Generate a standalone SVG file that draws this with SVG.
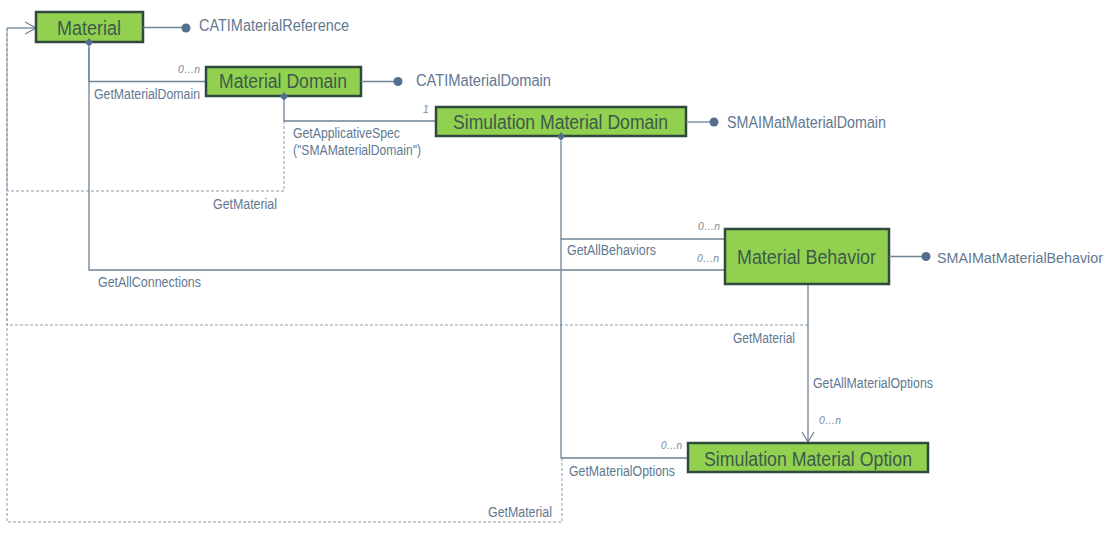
<svg xmlns="http://www.w3.org/2000/svg" width="1117" height="533" viewBox="0 0 1117 533">
<style>
.box{fill:#92D050;stroke:#2F4A3C;stroke-width:2.5}
.bt{font-family:"Liberation Sans",Arial,sans-serif;font-size:20px;fill:#3B5B4A}
.lb{font-family:"Liberation Sans",Arial,sans-serif;font-size:14px;fill:#627890}
.ifc{font-size:16px}
.ifs{font-size:15px}
.mu{font-family:"Liberation Sans",Arial,sans-serif;font-size:10px;font-style:italic;fill:#7A8A9A}
.ln{fill:none;stroke:#6F8397;stroke-width:1.3}
.dl{fill:none;stroke:#8A9CAE;stroke-width:1;stroke-dasharray:3 2}
.dot{fill:#52708E}
</style>
<rect width="1117" height="533" fill="#ffffff"/>
<g id="connectors">
  <path class="dl" d="M284,121 V191 H7 V28"/>
  <path class="dl" d="M808,325 H7 V28"/>
  <path class="dl" d="M562,458 V522 H7 V28"/>
  <path class="ln" d="M7,28 H36"/>
  <polyline class="ln" points="25,22 36,28 25,34"/>
  <path class="ln" d="M89,47 V81.5 H206"/>
  <path class="ln" d="M89,47 V270 H725"/>
  <path class="ln" d="M284,101 V121 H436"/>
  <path class="ln" d="M561,141 V239 H725"/>
  <path class="ln" d="M561,239 V458 H688"/>
  <path class="ln" d="M808,284 V442"/>
  <polyline class="ln" points="802,432 808,442 814,432"/>
  <text class="lb" x="94" y="99" textLength="106" lengthAdjust="spacingAndGlyphs">GetMaterialDomain</text>
  <text class="mu" x="178" y="73" textLength="22" lengthAdjust="spacingAndGlyphs">0…n</text>
  <text class="lb" x="98" y="287" textLength="103" lengthAdjust="spacingAndGlyphs">GetAllConnections</text>
  <text class="mu" x="697" y="262" textLength="22" lengthAdjust="spacingAndGlyphs">0…n</text>
  <text class="lb" x="293" y="138" textLength="107" lengthAdjust="spacingAndGlyphs">GetApplicativeSpec</text>
  <text class="lb" x="293" y="155" textLength="128" lengthAdjust="spacingAndGlyphs">("SMAMaterialDomain")</text>
  <text class="mu" x="423" y="113">1</text>
  <text class="lb" x="213" y="209" textLength="64" lengthAdjust="spacingAndGlyphs">GetMaterial</text>
  <text class="lb" x="567" y="255" textLength="89" lengthAdjust="spacingAndGlyphs">GetAllBehaviors</text>
  <text class="mu" x="698" y="230" textLength="22" lengthAdjust="spacingAndGlyphs">0…n</text>
  <text class="lb" x="733" y="343" textLength="62" lengthAdjust="spacingAndGlyphs">GetMaterial</text>
  <text class="lb" x="813" y="388" textLength="120" lengthAdjust="spacingAndGlyphs">GetAllMaterialOptions</text>
  <text class="mu" x="819" y="424" textLength="22" lengthAdjust="spacingAndGlyphs">0…n</text>
  <text class="lb" x="569" y="476" textLength="106" lengthAdjust="spacingAndGlyphs">GetMaterialOptions</text>
  <text class="mu" x="661" y="449" textLength="21" lengthAdjust="spacingAndGlyphs">0…n</text>
  <text class="lb" x="488" y="517" textLength="64" lengthAdjust="spacingAndGlyphs">GetMaterial</text>
</g>
<g id="material">
  <rect class="box" x="36" y="12" width="107" height="30"/>
  <text class="bt" x="57" y="35" textLength="64" lengthAdjust="spacingAndGlyphs">Material</text>
  <polygon class="dot" points="89,38 93,42.5 89,47 85,42.5"/>
  <path class="ln" d="M143,27.5 H186"/>
  <circle class="dot" cx="186" cy="28" r="4.5"/>
  <text class="lb ifc" x="199" y="31" textLength="150" lengthAdjust="spacingAndGlyphs">CATIMaterialReference</text>
</g>
<g id="material-domain">
  <rect class="box" x="206" y="67" width="155" height="29"/>
  <text class="bt" x="219" y="88" textLength="128" lengthAdjust="spacingAndGlyphs">Material Domain</text>
  <polygon class="dot" points="284,92 288,96.5 284,101 280,96.5"/>
  <path class="ln" d="M361,81.5 H398"/>
  <circle class="dot" cx="398" cy="81.5" r="4.5"/>
  <text class="lb ifc" x="416" y="86" textLength="135" lengthAdjust="spacingAndGlyphs">CATIMaterialDomain</text>
</g>
<g id="simulation-material-domain">
  <rect class="box" x="436" y="107" width="250" height="29"/>
  <text class="bt" x="453" y="129" textLength="215" lengthAdjust="spacingAndGlyphs">Simulation Material Domain</text>
  <polygon class="dot" points="561,132 565,136.5 561,141 557,136.5"/>
  <path class="ln" d="M686,122 H714"/>
  <circle class="dot" cx="714" cy="122" r="4.5"/>
  <text class="lb ifc" x="727" y="128" textLength="159" lengthAdjust="spacingAndGlyphs">SMAIMatMaterialDomain</text>
</g>
<g id="material-behavior">
  <rect class="box" x="725" y="229" width="164" height="55"/>
  <text class="bt" x="737" y="264" textLength="139" lengthAdjust="spacingAndGlyphs">Material Behavior</text>
  <path class="ln" d="M889,256.5 H926"/>
  <circle class="dot" cx="926" cy="256.5" r="4.5"/>
  <text class="lb ifs" x="937" y="263" textLength="166" lengthAdjust="spacingAndGlyphs">SMAIMatMaterialBehavior</text>
</g>
<g id="simulation-material-option">
  <rect class="box" x="688" y="443" width="240" height="29"/>
  <text class="bt" x="704" y="466" textLength="208" lengthAdjust="spacingAndGlyphs">Simulation Material Option</text>
</g>
</svg>
